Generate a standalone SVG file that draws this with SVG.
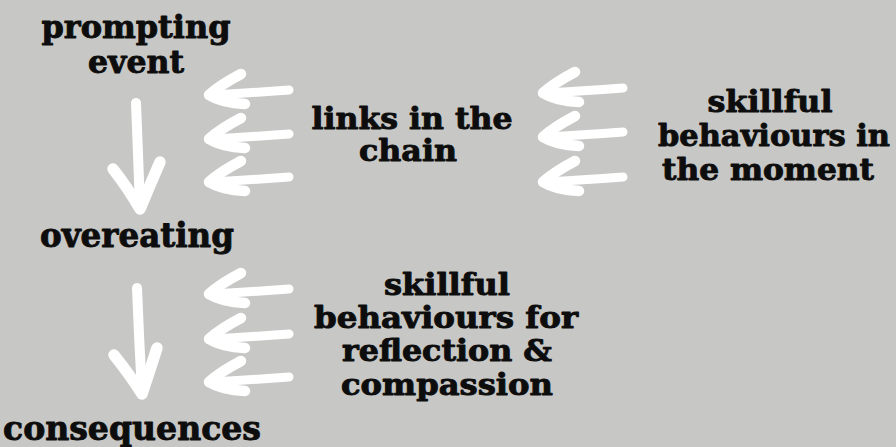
<svg xmlns="http://www.w3.org/2000/svg" xmlns:xlink="http://www.w3.org/1999/xlink" width="896" height="447" viewBox="0 0 896 447">
<style>
.t{font-family:"DejaVu Serif","Liberation Serif",serif;font-weight:bold;fill:#0d0d0d;stroke:#0d0d0d;stroke-width:0.9;stroke-linejoin:round;text-anchor:middle}
.a{fill:none;stroke:#ffffff;stroke-linecap:round;stroke-linejoin:round}
</style>
<defs>
<g id="la">
<path class="a" d="M81,-5 Q40,-2 3,0" stroke-width="9"/>
<path class="a" d="M33,-21 Q12,-10 1,0 Q14,8 37,9" stroke-width="10.5"/>
</g>
</defs>
<rect width="896" height="447" fill="#c7c7c5"/>
<g id="connectors">
<use xlink:href="#la" x="208" y="95"/>
<use xlink:href="#la" x="208" y="139"/>
<use xlink:href="#la" x="208" y="182"/>
<use xlink:href="#la" x="542" y="93"/>
<use xlink:href="#la" x="542" y="137"/>
<use xlink:href="#la" x="542" y="182"/>
<use xlink:href="#la" x="208" y="294"/>
<use xlink:href="#la" x="208" y="339"/>
<use xlink:href="#la" x="208" y="382"/>
<path class="a" d="M136,103 Q138,150 140,206" stroke-width="10"/>
<path class="a" d="M113,169 Q128,188 140,209 Q150,185 160,162" stroke-width="11.5"/>
<path class="a" d="M137,288 Q139,340 142,392" stroke-width="10"/>
<path class="a" d="M114,355 Q130,375 142,394 Q150,370 157,348" stroke-width="11.5"/>
</g>
<g id="prompting-event">
<text class="t" x="136" y="38" font-size="31" textLength="189" lengthAdjust="spacingAndGlyphs">prompting</text>
<text class="t" x="136" y="73" font-size="31" textLength="96" lengthAdjust="spacingAndGlyphs">event</text>
</g>
<g id="overeating">
<text class="t" x="137" y="247" font-size="33" textLength="194" lengthAdjust="spacingAndGlyphs">overeating</text>
</g>
<g id="consequences">
<text class="t" x="132" y="440" font-size="33" textLength="258" lengthAdjust="spacingAndGlyphs">consequences</text>
</g>
<g id="links-in-the-chain">
<text class="t" x="412" y="129" font-size="29" textLength="201" lengthAdjust="spacingAndGlyphs">links in the</text>
<text class="t" x="408" y="161" font-size="29" textLength="98" lengthAdjust="spacingAndGlyphs">chain</text>
</g>
<g id="skillful-moment">
<text class="t" x="770" y="112" font-size="29" textLength="125" lengthAdjust="spacingAndGlyphs">skillful</text>
<text class="t" x="774" y="146" font-size="29" textLength="232" lengthAdjust="spacingAndGlyphs">behaviours in</text>
<text class="t" x="768" y="180" font-size="29" textLength="212" lengthAdjust="spacingAndGlyphs">the moment</text>
</g>
<g id="skillful-reflection">
<text class="t" x="447" y="295" font-size="29" textLength="126" lengthAdjust="spacingAndGlyphs">skillful</text>
<text class="t" x="446" y="328" font-size="29" textLength="264" lengthAdjust="spacingAndGlyphs">behaviours for</text>
<text class="t" x="447" y="361" font-size="29" textLength="210" lengthAdjust="spacingAndGlyphs">reflection &amp;</text>
<text class="t" x="447" y="395" font-size="29" textLength="212" lengthAdjust="spacingAndGlyphs">compassion</text>
</g>
</svg>
